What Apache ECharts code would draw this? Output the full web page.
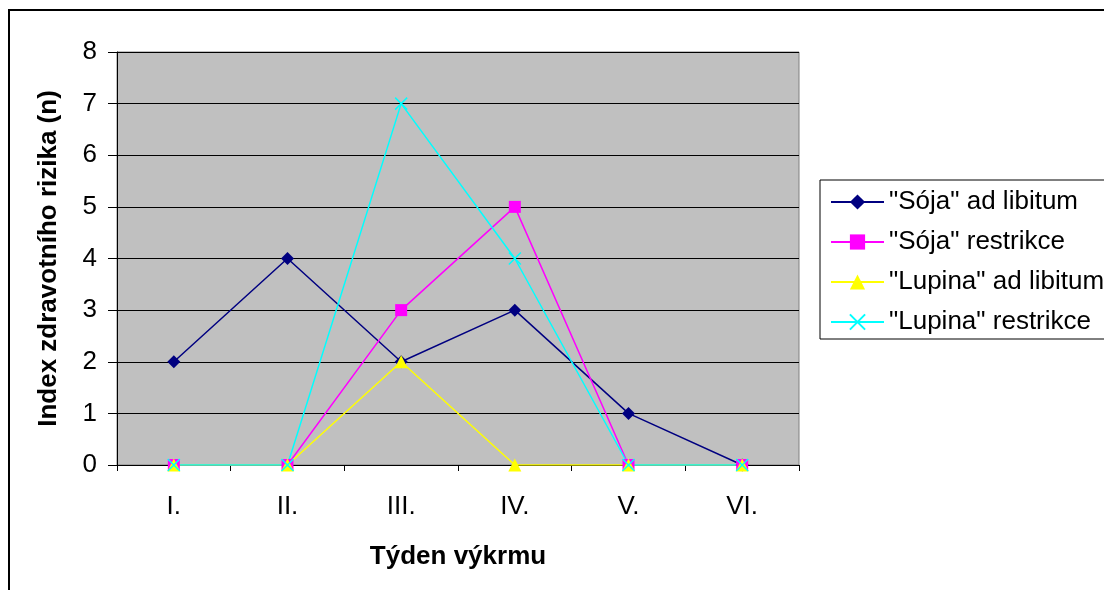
<!DOCTYPE html>
<html>
<head>
<meta charset="utf-8">
<script src="https://cdn.jsdelivr.net/npm/echarts@6/dist/echarts.min.js"></script>
<style>html,body{margin:0;padding:0;background:#fff;}#c{width:1104px;height:590px;}</style>
</head>
<body>
<div id="c"></div>
<script>
const categories = ['I.', 'II.', 'III.', 'IV.', 'V.', 'VI.'];
const sojaAdLibitum = [2, 4, 2, 3, 1, 0];
const sojaRestrikce = [0, 0, 3, 5, 0, 0];
const lupinaAdLibitum = [0, 0, 2, 0, 0, 0];
const lupinaRestrikce = [0, 0, 7, 4, 0, 0];
const seriesNames = ['"Sója" ad libitum', '"Sója" restrikce', '"Lupina" ad libitum', '"Lupina" restrikce'];
const yTicks = [0, 1, 2, 3, 4, 5, 6, 7, 8];

const FONT = 'Liberation Sans, Arial, sans-serif';
const chart = echarts.init(document.getElementById('c'), null, {renderer: 'canvas'});

function mk(name, data, color, symbol, size, extra) {
  return Object.assign({
    name: name, type: 'line', data: data,
    symbol: symbol, symbolSize: size,
    lineStyle: {color: color, width: 1.5},
    itemStyle: {color: color},
    showSymbol: true, animation: false
  }, extra || {});
}

chart.setOption({
  animation: false,
  backgroundColor: '#ffffff',
  textStyle: {fontFamily: FONT},
  graphic: [{
    type: 'rect', shape: {x: 9, y: 10, width: 1300, height: 800},
    style: {fill: 'none', stroke: '#000', lineWidth: 2}, z: -10, silent: true
  }],
  grid: {
    left: 117, right: 305, top: 52, bottom: 125,
    show: true, backgroundColor: '#C0C0C0', borderColor: '#808080', borderWidth: 1
  },
  legend: {
    orient: 'vertical', left: 820, top: 180,
    padding: [9, 12, 4, 10],
    itemWidth: 53, itemHeight: 19, itemGap: 14,
    borderColor: '#000', borderWidth: 1, backgroundColor: '#fff',
    textStyle: {fontSize: 26, color: '#000', fontFamily: FONT, lineHeight: 26},
    data: seriesNames
  },
  xAxis: {
    type: 'category', data: categories, boundaryGap: true,
    axisLine: {lineStyle: {color: '#000', width: 1}},
    axisTick: {show: true, length: 6, inside: false, lineStyle: {color: '#000'}},
    axisLabel: {color: '#000', fontSize: 26, margin: 29, fontFamily: FONT},
    name: 'Týden výkrmu', nameLocation: 'middle', nameGap: 79,
    nameTextStyle: {fontSize: 26, fontWeight: 'bold', color: '#000', fontFamily: FONT}
  },
  yAxis: {
    type: 'value', min: 0, max: 8, interval: 1,
    axisLine: {show: true, lineStyle: {color: '#000', width: 1}},
    axisTick: {show: true, length: 9, lineStyle: {color: '#000'}},
    axisLabel: {color: '#000', fontSize: 26, margin: 20, fontFamily: FONT,
      formatter: function (v) { return yTicks.indexOf(v) >= 0 ? String(v) : ''; }},
    splitLine: {show: true, lineStyle: {color: '#000', width: 1}},
    name: 'Index zdravotního rizika (n)', nameLocation: 'middle', nameGap: 55,
    nameTextStyle: {fontSize: 26, fontWeight: 'bold', color: '#000', fontFamily: FONT}
  },
  series: [
    mk(seriesNames[0], sojaAdLibitum, '#000080', 'diamond', 13),
    mk(seriesNames[1], sojaRestrikce, '#FF00FF', 'rect', 12),
    mk(seriesNames[2], lupinaAdLibitum, '#FFFF00', 'triangle', 13),
    mk(seriesNames[3], lupinaRestrikce, '#00FFFF', 'path://M0,0L10,10M10,0L0,10', 12,
      {itemStyle: {color: '#00FFFF', borderColor: '#00FFFF', borderWidth: 1.5}})
  ]
});
</script>
</body>
</html>
